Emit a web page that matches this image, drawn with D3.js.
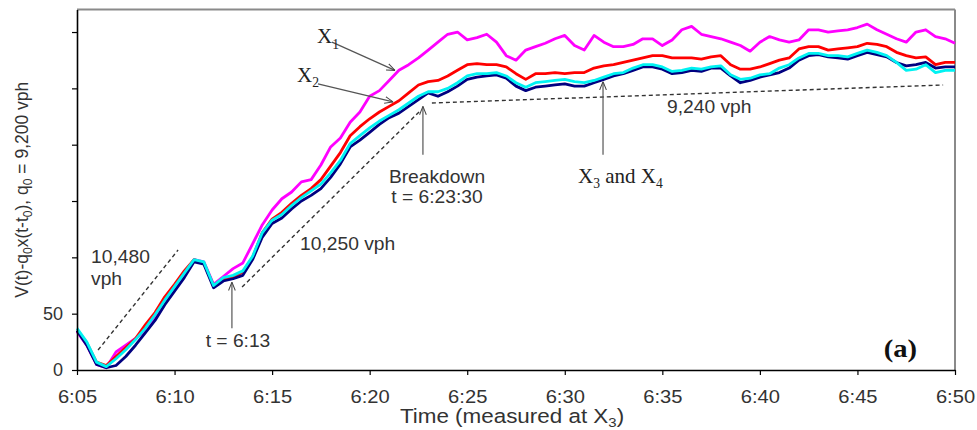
<!DOCTYPE html>
<html>
<head>
<meta charset="utf-8">
<script src="https://cdn.jsdelivr.net/npm/d3@7"></script>
<style>
  body { margin: 0; background: #fff; }
  svg text { font-family: "Liberation Sans", Arial, sans-serif; fill: #333; }
  svg text.serif { font-family: "Liberation Serif", "Times New Roman", serif; fill: #222; }
</style>
</head>
<body>
<div class="chart"></div>
<script>
// minutes after 6:00, every half minute
var minutes = [5,5.5,6,6.5,7,7.5,8,8.5,9,9.5,10,10.5,11,11.5,12,12.5,13,13.5,14,14.5,15,
  15.5,16,16.5,17,17.5,18,18.5,19,19.5,20,20.5,21,21.5,22,22.5,23,23.5,24,24.5,25,
  25.5,26,26.5,27,27.5,28,28.5,29,29.5,30,30.5,31,31.5,32,32.5,33,33.5,34,34.5,35,
  35.5,36,36.5,37,37.5,38,38.5,39,39.5,40,40.5,41,41.5,42,42.5,43,43.5,44,44.5,45,
  45.5,46,46.5,47,47.5,48,48.5,49,49.5,50];

var x1 = [34,22,5,2,16,22,28,35,46,59,71, 86,98,96,76,83,90,95,112,129,142,
  152,158,167,169,182,198,206,220,229,243, 248,257,266,271,277,284,291,298,300,293,
  295,298,291,279,275,284,287,290,294,297, 288,284,297,291,287,287,289,294,294,288,
  293,302,305,298,296,294,291,288,283,291, 296,293,291,293,302,302,300,301,302,304,
  307,302,298,294,291,300,302,296,294,290];
var x2 = [35,24,7,4,12,20,28,40,51,65,76, 88,98,95,75,81,82,87,100,122,134,
  140,148,155,161,169,181,193,208,216,223, 229,234,239,246,253,256,257,261,266,271,
  272,271,271,269,263,258,263,263,264,263, 264,264,268,270,271,273,275,277,279,279,
  277,277,277,276,278,279,271,267,267,269, 272,275,277,285,287,287,284,285,286,287,
  290,289,287,282,279,277,278,271,273,273];
var x3 = [35,22,5,2,4,12,22,33,44,58,70, 82,96,94,73,79,81,84,98,118,130,
  135,143,150,155,161,171,183,198,204,211, 218,224,228,234,240,246,243,247,252,258,
  260,261,262,259,252,248,251,252,253,254, 252,252,255,258,261,263,266,269,269,267,
  263,264,266,265,268,268,261,255,257,260, 262,264,268,275,279,280,278,277,276,279,
  282,280,278,273,270,271,273,268,269,269];
var x4 = [37,25,7,3,10,18,27,37,49,62,74, 86,98,96,75,82,84,88,101,122,133,
  138,146,153,159,165,175,186,201,208,215, 221,226,231,237,243,247,247,250,255,261,
  263,263,264,261,255,251,255,256,257,258, 256,255,257,260,263,264,268,271,271,269,
  265,266,268,267,269,270,262,258,259,262, 263,268,271,277,281,281,279,279,278,281,
  284,282,279,273,266,267,271,264,266,266];

var tickMinutes = [5,10,15,20,25,30,35,40,45,50];
var tickLabels = ["6:05","6:10","6:15","6:20","6:25","6:30","6:35","6:40","6:45","6:50"];
var yTicks = [0,50,100,150,200,250,300];
var yTickLabels = ["0","50","","","","",""];

// dashed slope guides [t0, v0, t1, v1]
var guides = [
  [6.08, 17.7, 10.18, 106.5],
  [13.46, 73.6, 22.58, 229.9],
  [23.19, 237, 49.39, 253]
];
// arrows, tail -> head
var arrows = [
  [18.07, 291, 21.30, 266],
  [17.35, 254, 21.20, 238],
  [22.73, 191, 22.73, 234],
  [31.96, 191, 31.96, 256],
  [12.94, 37, 12.94, 78]
];
var notes = [
  {t: 5.72, v: 95, text: "10,480", anchor: "start"},
  {t: 5.72, v: 75.5, text: "vph", anchor: "start"},
  {t: 16.43, v: 106.5, text: "10,250 vph", anchor: "start"},
  {t: 35.24, v: 228, text: "9,240 vph", anchor: "start"},
  {t: 13.25, v: 20.4, text: "t = 6:13", anchor: "middle"},
  {t: 23.45, v: 166, text: "Breakdown", anchor: "middle"},
  {t: 23.45, v: 148, text: "t = 6:23:30", anchor: "middle"}
];

var margin = {top: 9.5, right: 22, bottom: 60, left: 77},
    width = 977 - margin.left - margin.right,
    height = 430 - margin.top - margin.bottom;

var x = d3.scaleLinear().domain([5, 50]).range([0, width]);
var y = d3.scaleLinear().domain([0, 320]).range([height, 0]);

var svg = d3.select(".chart").append("svg")
    .attr("width", 977)
    .attr("height", 430)
  .append("g")
    .attr("transform", "translate(" + margin.left + "," + margin.top + ")");

svg.append("defs").append("marker")
    .attr("id", "head")
    .attr("viewBox", "0 0 10 10")
    .attr("refX", 10).attr("refY", 5)
    .attr("markerWidth", 7).attr("markerHeight", 7)
    .attr("orient", "auto")
  .append("path")
    .attr("d", "M0,1 L10,5 L0,9")
    .attr("fill", "none")
    .attr("stroke", "#444")
    .attr("stroke-width", 1.2);

// grey frame top and right
svg.append("line").attr("x1", 0).attr("x2", width).attr("y1", 0).attr("y2", 0)
    .attr("stroke", "#8a8a8a").attr("stroke-width", 2);
svg.append("line").attr("x1", width).attr("x2", width).attr("y1", 0).attr("y2", height)
    .attr("stroke", "#8a8a8a").attr("stroke-width", 2);

var line = d3.line()
    .x(function(d) { return x(d[0]); })
    .y(function(d) { return y(d[1]); });

var series = [
  {vals: x1, color: "#ff00ff"},
  {vals: x2, color: "#ff0000"},
  {vals: x3, color: "#000080"},
  {vals: x4, color: "#00f2f2"}
];

series.forEach(function(s) {
  svg.append("path")
    .datum(minutes.map(function(m, i) { return [m, s.vals[i]]; }))
    .attr("fill", "none")
    .attr("stroke", s.color)
    .attr("stroke-width", 2.8)
    .attr("stroke-linejoin", "round")
    .attr("d", line);
});

svg.selectAll(".guide")
    .data(guides)
  .enter().append("line")
    .attr("class", "guide")
    .attr("x1", function(d) { return x(d[0]); })
    .attr("y1", function(d) { return y(d[1]); })
    .attr("x2", function(d) { return x(d[2]); })
    .attr("y2", function(d) { return y(d[3]); })
    .attr("stroke", "#333")
    .attr("stroke-width", 1.4)
    .attr("stroke-dasharray", "4,3");

svg.selectAll(".arrow")
    .data(arrows)
  .enter().append("line")
    .attr("class", "arrow")
    .attr("x1", function(d) { return x(d[0]); })
    .attr("y1", function(d) { return y(d[1]); })
    .attr("x2", function(d) { return x(d[2]); })
    .attr("y2", function(d) { return y(d[3]); })
    .attr("stroke", "#555")
    .attr("stroke-width", 1.2)
    .attr("marker-end", "url(#head)");

svg.selectAll(".note")
    .data(notes)
  .enter().append("text")
    .attr("class", "note")
    .attr("transform", function(d) { return "translate(" + x(d.t) + "," + y(d.v) + ") scale(1.1,1)"; })
    .attr("text-anchor", function(d) { return d.anchor; })
    .style("font-size", "17.5px")
    .text(function(d) { return d.text; });

// serif labels with subscripts
function subLabel(t, v, parts, size, anchor) {
  var txt = svg.append("text")
    .attr("class", "serif")
    .attr("transform", "translate(" + x(t) + "," + y(v) + ")")
    .attr("text-anchor", anchor || "start")
    .style("font-size", size + "px");
  parts.forEach(function(p) {
    var ts = txt.append("tspan").text(p[0]);
    if (p[1]) ts.style("font-size", (size * 0.65) + "px").attr("dy", size * 0.25);
    else ts.attr("dy", p[2] || 0);
  });
  return txt;
}
subLabel(17.30, 290, [["X"], ["1", true]], 21);
subLabel(16.28, 255.6, [["X"], ["2", true]], 21);
subLabel(30.68, 166, [["X"], ["3", true], [" and X", false, -21 * 0.25], ["4", true]], 21);

svg.append("text")
    .attr("class", "serif")
    .attr("transform", "translate(" + (x(50) - 38) + "," + y(11.5) + ") scale(1.1,1)")
    .attr("text-anchor", "end")
    .style("font-size", "26px")
    .style("font-weight", "bold")
    .style("fill", "#111")
    .text("(a)");

var xAxis = d3.axisBottom(x)
    .tickValues(tickMinutes)
    .tickFormat(function(d, i) { return tickLabels[i]; })
    .tickSize(5)
    .tickSizeOuter(0)
    .tickPadding(15);

var yAxis = d3.axisLeft(y)
    .tickValues(yTicks)
    .tickFormat(function(d, i) { return yTickLabels[i]; })
    .tickSize(5)
    .tickSizeOuter(0)
    .tickPadding(9);

var gx = svg.append("g")
    .attr("class", "x axis")
    .attr("transform", "translate(0," + height + ")")
    .call(xAxis);
var gy = svg.append("g")
    .attr("class", "y axis")
    .call(yAxis);

[gx, gy].forEach(function(g) {
  g.select(".domain").attr("stroke", "#000").attr("stroke-width", 1.6);
  g.selectAll(".tick line").attr("stroke", "#000").attr("stroke-width", 1.2);
  g.selectAll(".tick text")
    .style("font-size", "18px")
    .style("font-family", "'Liberation Sans', Arial, sans-serif")
    .attr("fill", "#333");
});
gx.selectAll(".tick text").attr("transform", "scale(1.12,1)");

// axis titles
var xt = svg.append("text")
    .attr("transform", "translate(" + (435) + "," + (height + 52.5) + ") scale(1.15,1)")
    .attr("text-anchor", "middle")
    .style("font-size", "19.5px");
xt.append("tspan").text("Time (measured at X");
xt.append("tspan").text("3").style("font-size", "13px").attr("dy", 4);
xt.append("tspan").text(")").attr("dy", -4);

var yt = svg.append("text")
    .attr("transform", "translate(" + (-49) + "," + (height / 2) + ") rotate(-90)")
    .attr("text-anchor", "middle")
    .style("font-size", "17.5px");
[["V(t)-q"], ["0", 1], ["x(t-t", -1], ["0", 1], ["), q", -1], ["0", 1], [" = 9,200 vph", -1]]
  .forEach(function(p) {
    var ts = yt.append("tspan").text(p[0]);
    if (p[1] === 1) ts.style("font-size", "12px").attr("dy", 4);
    else if (p[1] === -1) ts.attr("dy", -4);
  });
</script>
</body>
</html>
